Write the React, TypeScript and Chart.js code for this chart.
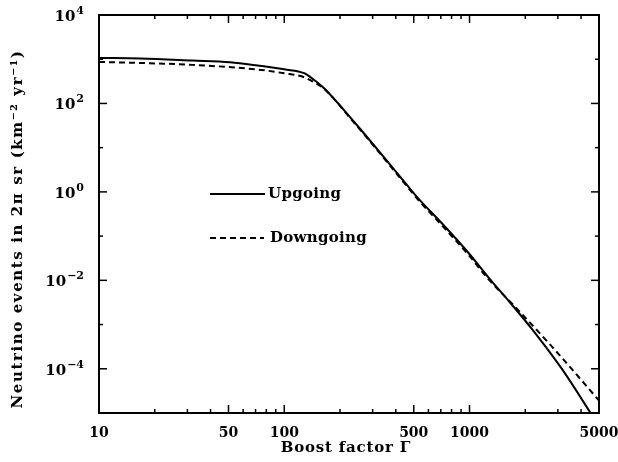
import React, { useEffect, useRef } from "react";
import { Chart, registerables } from "chart.js";
Chart.register(...registerables);

const upX = [10, 16.7, 32, 51, 75, 84.5, 100, 128, 145, 164, 238, 294, 444, 536, 705, 986, 1268, 1630, 2250, 3160, 4470, 5000];
const upY = [1070, 1040, 930, 850, 705, 661, 590, 483, 339, 221, 38.5, 13.6, 1.7, 0.667, 0.2, 0.042, 0.0115, 0.0034, 6.6e-4, 9.8e-5, 1.05e-5, 5e-6];
const downX = [10, 32, 75, 100, 126, 145, 164, 238, 294, 444, 536, 705, 986, 1268, 1720, 2780, 4770, 5000];
const downY = [870, 745, 573, 480, 400, 300, 215, 37, 13, 1.6, 0.62, 0.18, 0.038, 0.0105, 0.0028, 3.2e-4, 2.4e-5, 1.9e-5];

const xTickValues = [10, 50, 100, 500, 1000, 5000];
const xMinorValues = [20, 30, 40, 60, 70, 80, 90, 200, 300, 400, 600, 700, 800, 900, 2000, 3000, 4000];
const yTickValues = [1e-4, 1e-2, 1, 1e2, 1e4];
const yTickExponents = ["−4", "−2", "0", "2", "4"];
const yMinorValues = [1e-3, 1e-1, 1e1, 1e3];
const seriesLabels = ["Upgoing", "Downgoing"];
const xTitle = "Boost factor Γ";
const yTitle = "Neutrino events in 2π sr (km⁻² yr⁻¹)";

const FONT = "'DejaVu Serif', serif";

export default function App() {
  const ref = useRef<HTMLCanvasElement | null>(null);
  useEffect(() => {
    document.body.style.margin = "0";
    const canvas = ref.current;
    if (!canvas) return;
    const decor = {
      id: "decor",
      afterDraw(chart: any) {
        const { ctx, chartArea: a, scales } = chart;
        const xs = scales.x, ys = scales.y;
        ctx.save();
        ctx.strokeStyle = "#000";
        ctx.lineWidth = 2;
        ctx.strokeRect(a.left, a.top, a.right - a.left, a.bottom - a.top);
        ctx.lineWidth = 1.5;
        const tick = (x1: number, y1: number, x2: number, y2: number) => {
          ctx.beginPath(); ctx.moveTo(x1, y1); ctx.lineTo(x2, y2); ctx.stroke();
        };
        xTickValues.forEach((v) => { const p = xs.getPixelForValue(v); tick(p, a.bottom, p, a.bottom - 8); tick(p, a.top, p, a.top + 8); });
        xMinorValues.forEach((v) => { const p = xs.getPixelForValue(v); tick(p, a.bottom, p, a.bottom - 4); tick(p, a.top, p, a.top + 4); });
        yTickValues.forEach((v) => { const p = ys.getPixelForValue(v); tick(a.left, p, a.left + 8, p); tick(a.right, p, a.right - 8, p); });
        yMinorValues.forEach((v) => { const p = ys.getPixelForValue(v); tick(a.left, p, a.left + 4, p); tick(a.right, p, a.right - 4, p); });
        ctx.fillStyle = "#000";
        // y tick labels with superscripts
        ctx.textBaseline = "middle";
        ctx.textAlign = "left";
        yTickValues.forEach((v, i) => {
          const p = ys.getPixelForValue(v);
          ctx.font = `bold 11px ${FONT}`;
          const ew = ctx.measureText(yTickExponents[i]).width;
          ctx.font = `bold 15px ${FONT}`;
          const bw = ctx.measureText("10").width;
          const right = 84;
          ctx.fillText("10", right - ew - bw - 1, p + 2);
          ctx.font = `bold 11px ${FONT}`;
          ctx.fillText(yTickExponents[i], right - ew, p - 4);
        });
        // legend
        ctx.lineWidth = 2;
        ctx.setLineDash([]);
        tick(210, 194, 265, 194);
        ctx.setLineDash([6, 4]);
        tick(210, 238, 264, 238);
        ctx.setLineDash([]);
        ctx.font = `bold 15px ${FONT}`;
        (ctx as any).letterSpacing = "0.3px";
        ctx.fillText(seriesLabels[0], 268, 194);
        ctx.fillText(seriesLabels[1], 270, 238);
        // titles
        ctx.textAlign = "center";
        (ctx as any).letterSpacing = "0.8px";
        ctx.fillText(xTitle, 346, 448);
        (ctx as any).letterSpacing = "1.6px";
        ctx.translate(18, 229);
        ctx.rotate(-Math.PI / 2);
        ctx.fillText(yTitle, 0, 0);
        ctx.restore();
      },
    };
    const chart = new Chart(canvas, {
      type: "line",
      data: {
        datasets: [
          {
            label: seriesLabels[0],
            data: upX.map((x, i) => ({ x, y: upY[i] })),
            borderColor: "#000",
            borderWidth: 2,
            pointRadius: 0,
            cubicInterpolationMode: "monotone",
            fill: false,
          },
          {
            label: seriesLabels[1],
            data: downX.map((x, i) => ({ x, y: downY[i] })),
            borderColor: "#000",
            borderWidth: 2,
            borderDash: [6, 4],
            pointRadius: 0,
            cubicInterpolationMode: "monotone",
            fill: false,
          },
        ],
      },
      options: {
        animation: false,
        responsive: true,
        maintainAspectRatio: false,
        layout: { padding: { top: 15, right: 19, left: 0, bottom: 0 } },
        plugins: { legend: { display: false }, tooltip: { enabled: false } },
        scales: {
          x: {
            type: "logarithmic",
            min: 10,
            max: 5000,
            grid: { display: false },
            border: { display: false },
            afterFit: (s: any) => { s.height = 49; s.paddingLeft = 0; s.paddingRight = 0; },
            afterBuildTicks: (s: any) => { s.ticks = xTickValues.map((v) => ({ value: v })); },
            ticks: {
              autoSkip: false,
              maxRotation: 0,
              padding: 4,
              color: "#000",
              font: { family: FONT, weight: "bold", size: 14 },
              callback: (v: any) => String(v),
            },
          },
          y: {
            type: "logarithmic",
            min: 1e-5,
            max: 1e4,
            grid: { display: false },
            border: { display: false },
            afterFit: (s: any) => { s.width = 99; s.paddingTop = 0; s.paddingBottom = 0; },
            afterBuildTicks: (s: any) => { s.ticks = yTickValues.map((v) => ({ value: v })); },
            ticks: { display: false },
          },
        },
      },
      plugins: [decor],
    } as any);
    return () => chart.destroy();
  }, []);
  return (
    <div style={{ position: "relative", width: 618, height: 462 }}>
      <canvas ref={ref} />
    </div>
  );
}
